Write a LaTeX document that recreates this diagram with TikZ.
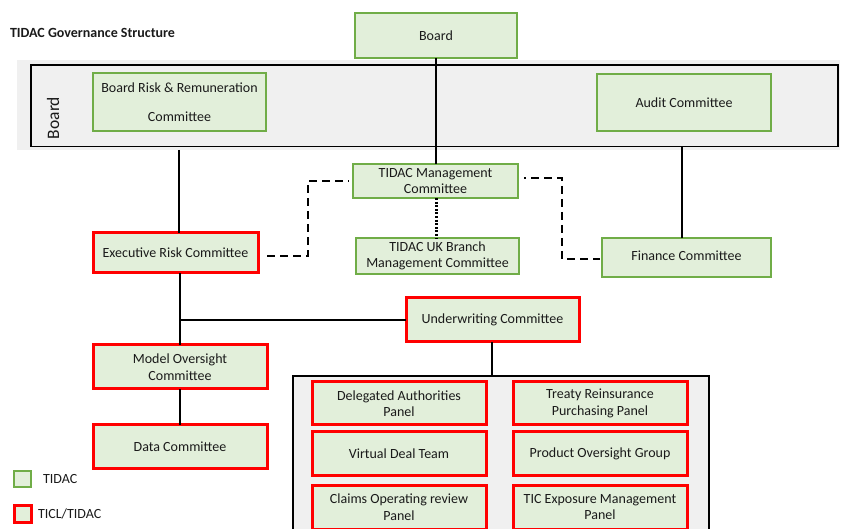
\documentclass[tikz,border=0pt]{standalone}
\usepackage{fontspec}
\setmainfont{Carlito}
\definecolor{gfill}{HTML}{E2EFDA}
\definecolor{gline}{HTML}{70AD47}
\definecolor{rline}{HTML}{FF0000}
\definecolor{band}{HTML}{F0F0F0}
\definecolor{txt}{HTML}{1A1A1A}
\begin{document}
\begin{tikzpicture}[x=1pt,y=-1pt,
  every node/.style={text=txt, font=\fontsize{14}{16.5}\selectfont, inner sep=0pt, outer sep=0pt},
  gbox/.style={draw=gline, fill=gfill, line width=2.5pt, rectangle, align=center},
  rbox/.style={draw=rline, fill=gfill, line width=3pt, rectangle, align=center},
  conn/.style={draw=black, line width=2pt},
  dashconn/.style={draw=black, line width=2.8pt, dash pattern=on 8pt off 5pt},
  dotconn/.style={draw=black, line width=3pt, dash pattern=on 2pt off 1.6pt}]
\useasboundingbox (0,0) rectangle (844,529);
% title
\node[anchor=west, font=\bfseries\fontsize{14}{16}\selectfont] (title) at (10,33) {TIDAC Governance Structure};
% board band
\fill[band] (17,60) rectangle (840,150);
\draw[black, line width=1.5pt] (31,65) rectangle (838,146.5);
\coordinate (bandL) at (179,150);
\coordinate (bandR) at (682,146.5);
\node[rotate=90, font=\fontsize{17.5}{20}\selectfont] (boardlbl) at (53,118) {Board};
% boxes
\node[gbox, minimum width=162, minimum height=45] (board) at (436,35.5) {\raisebox{-2pt}{Board}};
\node[gbox, minimum width=173, minimum height=58, font=\fontsize{14}{29}\selectfont] (brr) at (179.5,102) {Board Risk \& Remuneration\\Committee};
\node[gbox, minimum width=174, minimum height=57] (audit) at (684,102.5) {Audit Committee};
\node[gbox, minimum width=165, minimum height=34] (mgmt) at (435.5,181) {TIDAC Management\\Committee};
\node[gbox, minimum width=163, minimum height=36] (uk) at (437.5,256) {TIDAC UK Branch\\Management Committee};
\node[rbox, minimum width=165, minimum height=40] (erc) at (175.5,253) {Executive Risk Committee};
\node[gbox, minimum width=169, minimum height=39] (fin) at (686.5,257.5) {\raisebox{3pt}{Finance Committee}};
\node[rbox, minimum width=173, minimum height=44] (uw) at (492.5,320) {Underwriting Committee};
\node[rbox, minimum width=174, minimum height=44] (moc) at (180,367) {Model Oversight\\Committee};
\node[rbox, minimum width=174, minimum height=43] (data) at (180,446.5) {Data Committee};
% panel container
\filldraw[fill=band, draw=black, line width=1.5pt] (293,376) rectangle (709,545);
\coordinate (contTop) at (492,376);
\node[rbox, minimum width=174, minimum height=43] (dap) at (399,403.5) {Delegated Authorities\\Panel};
\node[rbox, minimum width=174, minimum height=43] (trp) at (600,403.5) {Treaty Reinsurance\\Purchasing Panel};
\node[rbox, minimum width=174, minimum height=43] (vdt) at (399,453.5) {Virtual Deal Team};
\node[rbox, minimum width=174, minimum height=43] (pog) at (600,453.5) {Product Oversight Group};
\node[rbox, minimum width=174, minimum height=44] (corp) at (399,507) {Claims Operating review\\Panel};
\node[rbox, minimum width=174, minimum height=44] (tic) at (600,507) {TIC Exposure Management\\Panel};
% connectors
\draw[conn] (board.south) -- (board.south |- mgmt.north);
\draw[conn] (bandL) -- (bandL |- erc.north);
\draw[conn] (bandR) -- (bandR |- fin.north);
\draw[dotconn] (436,198) -- (436,238);
\coordinate (ercB) at (180,273);
\coordinate (uwJ) at (180,320);
\draw[conn] (ercB) -- (ercB |- moc.north);
\draw[conn] (uwJ) -- (uw.west);
\draw[conn] (moc.south) -- (data.north);
\draw[conn] (uw.south -| contTop) -- (contTop);
\coordinate (dl1) at (267,256);
\coordinate (dl2) at (308,256);
\coordinate (dl3) at (308,181);
\coordinate (dl4) at (349,181);
\draw[dashconn] (dl1) -- (dl2) -- (dl3) -- (dl4);
\coordinate (dr1) at (524,178);
\coordinate (dr2) at (562,178);
\coordinate (dr3) at (562,259);
\coordinate (dr4) at (600,259);
\draw[dashconn, dash phase=6pt] (dr1) -- (dr2) -- (dr3) -- (dr4);
% legend
\node[gbox, minimum width=17, minimum height=16] (lg) at (22.5,479) {};
\node[anchor=west] (lgt) at (43,479) {TIDAC};
\node[rbox, minimum width=17, minimum height=17] (lr) at (22.5,513.5) {};
\node[anchor=west] (lrt) at (38,513.5) {TICL/TIDAC};
\end{tikzpicture}
\end{document}
